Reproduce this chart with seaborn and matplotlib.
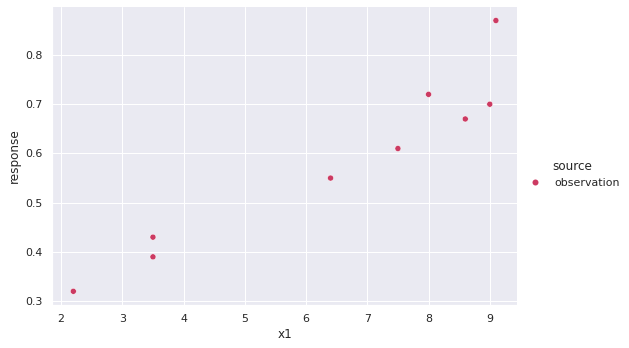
import seaborn as sns
import matplotlib.pyplot as plt
import pandas as pd

x1 = [2.2, 3.5, 3.5, 6.4, 7.5, 8.0, 8.6, 9.0, 9.1]
response = [0.32, 0.43, 0.39, 0.55, 0.61, 0.72, 0.67, 0.70, 0.87]
source = ["observation"] * len(x1)

df = pd.DataFrame({"x1": x1, "response": response, "source": source})

sns.set_theme(style="darkgrid")
g = sns.relplot(data=df, x="x1", y="response", hue="source",
                palette=["#cc3a62"], height=4.8, aspect=1.4)
g.figure.set_dpi(72)
g.figure.set_size_inches(629 / 72, 348 / 72)
g.figure.subplots_adjust(left=0.083, right=0.822, bottom=0.124, top=0.98)
sns.move_legend(g, "center left", bbox_to_anchor=(0.817, 0.5), frameon=False)
g.figure.savefig("out.png", dpi=72)
